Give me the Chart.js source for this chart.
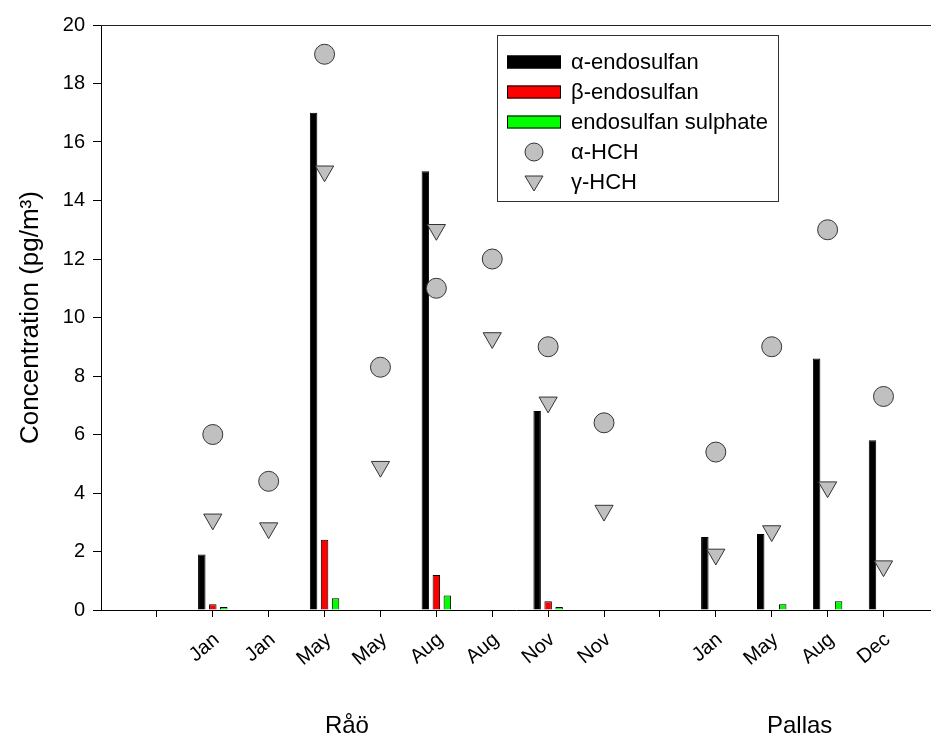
<!DOCTYPE html>
<html>
<head>
<meta charset="utf-8">
<script src="https://cdn.jsdelivr.net/npm/chart.js@4.4.1/dist/chart.umd.min.js"></script>
<style>
  html, body { margin: 0; padding: 0; background: #fff; }
</style>
</head>
<body>
<canvas id="concChart" width="931" height="756"></canvas>
<script>
// slot 0 is the axis origin, slots 1 and 10 are empty spacers
const slotLabels = ['', '', 'Jan', 'Jan', 'May', 'May', 'Aug', 'Aug', 'Nov', 'Nov', '', 'Jan', 'May', 'Aug', 'Dec'];
const siteLabels = ['Råö', 'Pallas'];

// bars sit on these slots
const barSlots = [2, 4, 6, 8, 11, 12, 13, 14];
const alphaEndo = [1.9, 17.0, 15.0, 6.8, 2.5, 2.6, 8.6, 5.8];
const betaEndo = [0.2, 2.4, 1.2, 0.3, null, null, null, null];
const endoSulphate = [0.1, 0.4, 0.5, 0.1, null, 0.2, 0.3, null];

// HCH symbols
const hchSlots = [2, 3, 4, 5, 6, 7, 8, 9, 11, 12, 13, 14];
const alphaHCH = [6.0, 4.4, 19.0, 8.3, 11.0, 12.0, 9.0, 6.4, 5.4, 9.0, 13.0, 7.3];
const gammaHCH = [3.1, 2.8, 15.0, 4.9, 13.0, 9.3, 7.1, 3.4, 1.9, 2.7, 4.2, 1.5];

const yMax = 20;
const yStep = 2;

Chart.defaults.font.family = '"Liberation Sans", Arial, sans-serif';
Chart.defaults.color = '#000';

function toPoints(xs, ys) {
    return xs.map((x, i) => ({x: x, y: ys[i]}));
}

// top frame line, boxed legend and the site names under the axis
const extras = {
    id: 'extras',
    afterDraw(chart) {
        const {ctx, chartArea} = chart;
        const xScale = chart.scales.x;
        ctx.save();

        ctx.strokeStyle = '#222';
        ctx.lineWidth = 1;
        ctx.beginPath();
        ctx.moveTo(chartArea.left, chartArea.top + 0.5);
        ctx.lineTo(chartArea.right, chartArea.top + 0.5);
        ctx.stroke();

        // legend
        const lx = 497, ly = 35, lw = 281, lh = 166;
        ctx.strokeStyle = '#333';
        ctx.strokeRect(lx + 0.5, ly + 0.5, lw, lh);
        ctx.font = '22px "Liberation Sans", Arial, sans-serif';
        ctx.textBaseline = 'middle';
        ctx.textAlign = 'left';
        chart.data.datasets.forEach((ds, i) => {
            const cy = ly + 27 + i * 30;
            const sx = lx + 10, sw = 54, sh = 13;
            ctx.lineWidth = 1;
            if (ds.type === 'scatter') {
                const cx = sx + sw / 2;
                ctx.fillStyle = ds.backgroundColor;
                ctx.strokeStyle = ds.borderColor;
                ctx.beginPath();
                if (ds.pointStyle === 'circle') {
                    ctx.arc(cx, cy, 9, 0, Math.PI * 2);
                } else {
                    ctx.moveTo(cx - 9, cy - 6);
                    ctx.lineTo(cx + 9, cy - 6);
                    ctx.lineTo(cx, cy + 9);
                    ctx.closePath();
                }
                ctx.fill();
                ctx.stroke();
            } else {
                ctx.fillStyle = ds.backgroundColor;
                ctx.fillRect(sx, cy - sh / 2, sw, sh);
                ctx.strokeStyle = '#000';
                ctx.strokeRect(sx + 0.5, cy - sh / 2 + 0.5, sw - 1, sh - 1);
            }
            ctx.fillStyle = '#000';
            ctx.fillText(ds.label, lx + 74, cy + 1);
        });

        // site names
        ctx.font = '24px "Liberation Sans", Arial, sans-serif';
        ctx.textAlign = 'center';
        ctx.fillStyle = '#000';
        ctx.fillText(siteLabels[0], xScale.getPixelForValue(4.4), 726);
        ctx.fillText(siteLabels[1], xScale.getPixelForValue(12.5), 726);
        ctx.restore();
    }
};

const ctx = document.getElementById('concChart');
const concChart = new Chart(ctx, {
    type: 'bar',
    data: {
        datasets: [
            {
                label: 'α-endosulfan',
                data: toPoints(barSlots, alphaEndo),
                backgroundColor: '#000000',
                borderColor: '#000000',
                borderWidth: 1,
                categoryPercentage: 0.59,
                barPercentage: 0.68,
                order: 2
            },
            {
                label: 'β-endosulfan',
                data: toPoints(barSlots, betaEndo),
                backgroundColor: '#ff0000',
                borderColor: '#000000',
                borderWidth: 1,
                categoryPercentage: 0.59,
                barPercentage: 0.68,
                order: 2
            },
            {
                label: 'endosulfan sulphate',
                data: toPoints(barSlots, endoSulphate),
                backgroundColor: '#00ff00',
                borderColor: '#000000',
                borderWidth: 1,
                categoryPercentage: 0.59,
                barPercentage: 0.68,
                order: 2
            },
            {
                type: 'scatter',
                label: 'α-HCH',
                data: toPoints(hchSlots, alphaHCH),
                pointStyle: 'circle',
                pointRadius: 10,
                backgroundColor: '#c0c0c0',
                borderColor: '#333333',
                borderWidth: 1,
                order: 1
            },
            {
                type: 'scatter',
                label: 'γ-HCH',
                data: toPoints(hchSlots, gammaHCH),
                pointStyle: 'triangle',
                rotation: 180,
                pointRadius: 10.5,
                backgroundColor: '#c0c0c0',
                borderColor: '#333333',
                borderWidth: 1,
                order: 1
            }
        ]
    },
    options: {
        responsive: false,
        animation: false,
        layout: { autoPadding: false, padding: { top: 25, right: 0, bottom: 0, left: 0 } },
        plugins: {
            legend: { display: false },
            tooltip: { enabled: false }
        },
        scales: {
            x: {
                type: 'linear',
                min: 0,
                max: 14.85,
                offset: false,
                grid: {
                    drawOnChartArea: false,
                    tickLength: 7,
                    color: '#000',
                    offset: false
                },
                border: { color: '#000', width: 1 },
                ticks: {
                    stepSize: 1,
                    autoSkip: false,
                    minRotation: 40,
                    maxRotation: 40,
                    padding: 11,
                    labelOffset: 4,
                    font: { size: 20 },
                    callback: function (value) {
                        return slotLabels[value] || '';
                    }
                },
                afterBuildTicks: function (scale) {
                    scale.ticks = scale.ticks.filter(t => Number.isInteger(t.value) && t.value >= 1);
                },
                afterFit: function (scale) {
                    scale.height = 146;
                }
            },
            y: {
                min: 0,
                max: yMax,
                grid: {
                    drawOnChartArea: false,
                    tickLength: 8,
                    color: '#000'
                },
                border: { color: '#000', width: 1 },
                ticks: {
                    stepSize: yStep,
                    padding: 8,
                    font: { size: 20 }
                },
                title: {
                    display: true,
                    text: 'Concentration (pg/m³)',
                    font: { size: 26 },
                    padding: { top: 15, bottom: 0 }
                },
                afterFit: function (scale) {
                    scale.width = 101;
                }
            }
        }
    },
    plugins: [extras]
});
</script>
</body>
</html>
